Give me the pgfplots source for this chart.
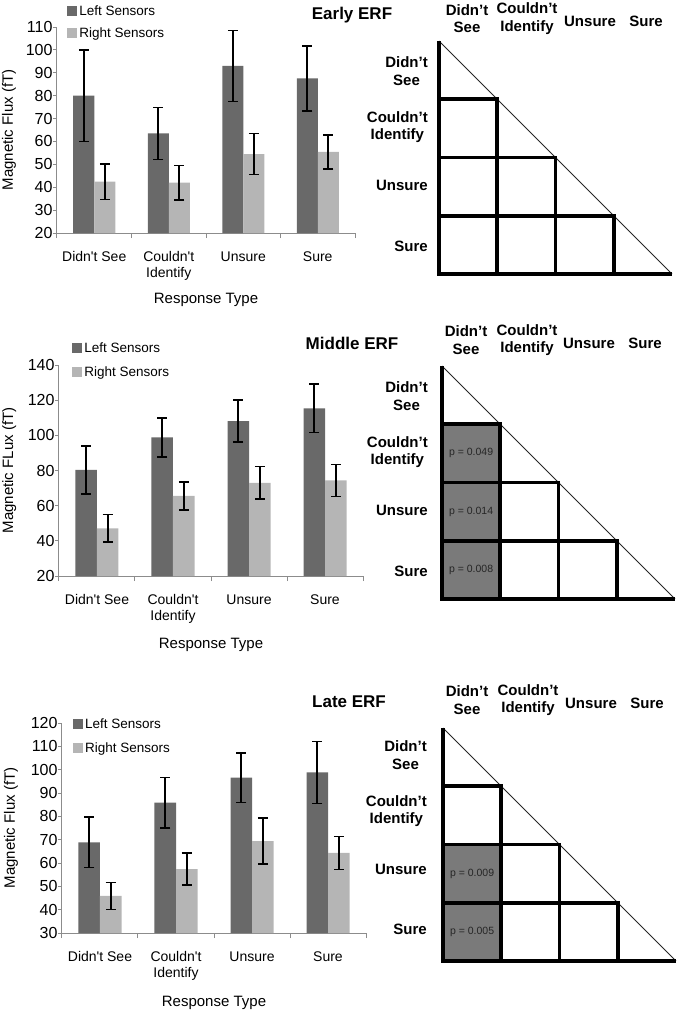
\documentclass[border=0pt]{standalone}
\usepackage{fontspec}
\setmainfont{Liberation Sans}
\usepackage{pgfplots}
\pgfplotsset{compat=1.18}
\definecolor{darkbar}{RGB}{105,105,105}
\definecolor{lightbar}{RGB}{181,181,181}
\definecolor{cellgray}{RGB}{122,122,122}
\definecolor{axisgray}{RGB}{140,140,140}
\newcommand{\ap}{\textquotesingle}
\pgfplotsset{
  barchart/.style={
    scale only axis, anchor=south west, clip=false,
    ybar=0pt, bar width=21pt,
    xmin=-0.5, xmax=3.5,
    axis x line*=bottom, axis y line*=left,
    axis line style={axisgray, line width=1pt},
    tick align=outside, xtick pos=bottom, ytick pos=left,
    major tick length=4pt, minor tick length=5pt,
    xtick={0,1,2,3},
    xticklabels={Didn\ap t See, {Couldn\ap t\\Identify}, Unsure, Sure},
    minor xtick={-0.5,0.5,1.5,2.5,3.5},
    every major x tick/.append style={draw=none},
    every minor x tick/.append style={draw=axisgray, line width=1pt},
    every major y tick/.append style={draw=axisgray, line width=1pt},
    xticklabel style={align=center, font=\fontsize{14}{16}\selectfont, anchor=north, yshift=-11pt},
    yticklabel style={font=\fontsize{16}{18}\selectfont, xshift=3pt},
    /pgf/number format/assume math mode=true,
    xlabel={Response Type},
    xlabel style={font=\fontsize{15}{18}\selectfont, anchor=center},
    ylabel style={font=\fontsize{15}{18}\selectfont, anchor=center},
    error bars/y dir=both, error bars/y explicit,
    error bars/error mark=-,
    error bars/error bar style={draw=black, line width=1.6pt},
    error bars/error mark options={draw=black, line width=1.6pt, mark size=5pt, rotate=90},
    legend style={draw=none, fill=none, inner sep=0pt, anchor=north west, row sep=9pt,
       font=\fontsize{13.5}{16}\selectfont, nodes={inner sep=0pt, inner xsep=2pt, text height=10pt, text depth=3pt}},
    legend cell align=left,
    legend image code/.code={\fill[##1] (0pt,-3.5pt) rectangle (10pt,6.5pt);},
  },
  tri/.style={scale only axis, anchor=south west, width=233pt, height=233pt,
    xmin=0, xmax=4, ymin=0, ymax=4, hide axis, clip=false},
  thk/.style={black, line width=3.8pt, line join=miter},
}
\begin{document}
\begin{tikzpicture}[
  lab/.style={font=\bfseries\fontsize{15}{17.5}\selectfont, align=center, inner sep=0pt},
  ttl/.style={font=\bfseries\fontsize{17}{20}\selectfont, inner sep=0pt},
  pv/.style={font=\fontsize{10.5}{12}\selectfont, text=black!85}]
\useasboundingbox (0,0) rectangle (680pt,-1012pt);

% ---------------- Early ERF ----------------
\begin{axis}[barchart, at={(57pt,-233pt)}, width=298pt, height=206pt,
  ymin=20, ymax=110, ytick={20,30,...,110},
  ylabel={Magnetic Flux (fT)},
  ylabel style={at={(axis description cs:-0.161,0.5)}},
  xlabel style={at={(axis description cs:0.5,-0.326)}},
  legend style={at={(axis description cs:0.034,1.104)}}]
\addplot[fill=darkbar, draw=none] coordinates {(0,80) +- (0,20) (1,63.5) +- (0,11.3) (2,93) +- (0,15.5) (3,87.6) +- (0,14.2)};
\addplot[fill=lightbar, draw=none] coordinates {(0,42.4) +- (0,7.8) (1,42) +- (0,7.5) (2,54.5) +- (0,8.9) (3,55.4) +- (0,7.5)};
\legend{Left Sensors, Right Sensors}
\end{axis}
\node[ttl] at (352pt,-15pt) {Early ERF};
\begin{axis}[tri, at={(439pt,-274pt)}]
\addplot[black!85, line width=0.8pt] coordinates {(0,4) (4,0)};
\addplot[thk] coordinates {(0,4) (0,0) (4,0)};
\addplot[thk] coordinates {(0,3) (1,3) (1,0)};
\addplot[thk] coordinates {(0,2) (2,2) (2,0)};
\addplot[thk] coordinates {(0,1) (3,1) (3,0)};
\end{axis}
\node[lab] at (467pt,-18.5pt) {Didn't\\See};
\node[lab] at (527pt,-18.5pt) {Couldn't\\Identify};
\node[lab] at (590pt,-21pt) {Unsure};
\node[lab] at (646pt,-21pt) {Sure};
\node[lab, anchor=east] at (428pt,-71pt) {Didn't\\See};
\node[lab, anchor=east] at (428pt,-127pt) {Couldn't\\Identify};
\node[lab, anchor=east] at (428pt,-185pt) {Unsure};
\node[lab, anchor=east] at (428pt,-246pt) {Sure};

% ---------------- Middle ERF ----------------
\begin{axis}[barchart, at={(59pt,-576pt)}, width=304pt, height=211pt, bar width=21.5pt,
  ymin=20, ymax=140, ytick={20,40,...,140},
  ylabel={Magnetic FLux (fT)},
  ylabel style={at={(axis description cs:-0.164,0.5)}},
  xlabel style={at={(axis description cs:0.5,-0.328)}},
  legend style={at={(axis description cs:0.043,1.106)}, row sep=11pt}]
\addplot[fill=darkbar, draw=none] coordinates {(0,80.3) +- (0,13.5) (1,98.8) +- (0,11.1) (2,108.1) +- (0,12) (3,115.4) +- (0,13.8)};
\addplot[fill=lightbar, draw=none] coordinates {(0,47.1) +- (0,7.9) (1,65.6) +- (0,8) (2,73) +- (0,9.2) (3,74.4) +- (0,9.1)};
\legend{Left Sensors, Right Sensors}
\end{axis}
\node[ttl] at (352pt,-343pt) {Middle ERF};
\begin{axis}[tri, at={(442pt,-599pt)}]
\addplot[ybar, bar width=1, bar shift=0pt, fill=cellgray, draw=none] coordinates {(0.5,3)};
\addplot[black!85, line width=0.8pt] coordinates {(0,4) (4,0)};
\addplot[thk] coordinates {(0,4) (0,0) (4,0)};
\addplot[thk] coordinates {(0,3) (1,3) (1,0)};
\addplot[thk] coordinates {(0,2) (2,2) (2,0)};
\addplot[thk] coordinates {(0,1) (3,1) (3,0)};
\node[pv] at (axis cs:0.5,2.5) {p = 0.049};
\node[pv] at (axis cs:0.5,1.5) {p = 0.014};
\node[pv] at (axis cs:0.5,0.5) {p = 0.008};
\end{axis}
\node[lab] at (466pt,-340pt) {Didn't\\See};
\node[lab] at (527pt,-340pt) {Couldn't\\Identify};
\node[lab] at (589pt,-343pt) {Unsure};
\node[lab] at (645pt,-343pt) {Sure};
\node[lab, anchor=east] at (428pt,-396pt) {Didn't\\See};
\node[lab, anchor=east] at (428pt,-452pt) {Couldn't\\Identify};
\node[lab, anchor=east] at (428pt,-510pt) {Unsure};
\node[lab, anchor=east] at (428pt,-571pt) {Sure};

% ---------------- Late ERF ----------------
\begin{axis}[barchart, at={(62pt,-933pt)}, width=304pt, height=210pt, bar width=21.5pt,
  ymin=30, ymax=120, ytick={30,40,...,120},
  ylabel={Magnetic Flux (fT)},
  ylabel style={at={(axis description cs:-0.168,0.5)}},
  xlabel style={at={(axis description cs:0.5,-0.334)}},
  legend style={at={(axis description cs:0.036,1.021)}, row sep=11pt}]
\addplot[fill=darkbar, draw=none] coordinates {(0,68.8) +- (0,10.8) (1,85.9) +- (0,10.8) (2,96.6) +- (0,10.6) (3,98.8) +- (0,13.3)};
\addplot[fill=lightbar, draw=none] coordinates {(0,45.9) +- (0,5.8) (1,57.4) +- (0,6.8) (2,69.4) +- (0,9.9) (3,64.3) +- (0,7)};
\legend{Left Sensors, Right Sensors}
\end{axis}
\node[ttl] at (349pt,-702pt) {Late ERF};
\begin{axis}[tri, at={(443pt,-961pt)}]
\addplot[ybar, bar width=1, bar shift=0pt, fill=cellgray, draw=none] coordinates {(0.5,2)};
\addplot[black!85, line width=0.8pt] coordinates {(0,4) (4,0)};
\addplot[thk] coordinates {(0,4) (0,0) (4,0)};
\addplot[thk] coordinates {(0,3) (1,3) (1,0)};
\addplot[thk] coordinates {(0,2) (2,2) (2,0)};
\addplot[thk] coordinates {(0,1) (3,1) (3,0)};
\node[pv] at (axis cs:0.5,1.5) {p = 0.009};
\node[pv] at (axis cs:0.5,0.5) {p = 0.005};
\end{axis}
\node[lab] at (467pt,-700pt) {Didn't\\See};
\node[lab] at (528pt,-700pt) {Couldn't\\Identify};
\node[lab] at (591pt,-703pt) {Unsure};
\node[lab] at (647pt,-703pt) {Sure};
\node[lab, anchor=east] at (427pt,-755pt) {Didn't\\See};
\node[lab, anchor=east] at (427pt,-811pt) {Couldn't\\Identify};
\node[lab, anchor=east] at (427pt,-869pt) {Unsure};
\node[lab, anchor=east] at (427pt,-929pt) {Sure};
\end{tikzpicture}
\end{document}
